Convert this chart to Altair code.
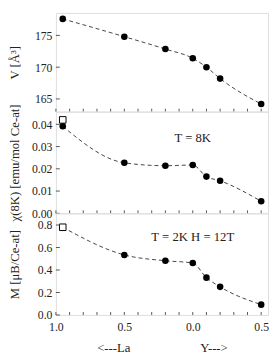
import altair as alt
import pandas as pd

# composition axis: negative = La fraction (shown as positive), positive = Y fraction
x_comp = [-0.95, -0.5, -0.2, 0.0, 0.1, 0.2, 0.5]
V_vals = [177.6, 174.8, 172.85, 171.4, 170.0, 168.2, 164.2]
chi_vals = [0.0391, 0.0227, 0.0214, 0.0217, 0.0165, 0.0146, 0.0054]
chi_open_x = [-0.95]
chi_open_y = [0.042]
M_x = [-0.5, -0.2, 0.0, 0.1, 0.2, 0.5]
M_vals = [0.534, 0.482, 0.462, 0.332, 0.25, 0.092]
M_open_x = [-0.95]
M_open_y = [0.78]

x_ticks = [round(-1.0 + 0.1 * i, 1) for i in range(16)]
x_label_vals = [-1.0, -0.5, 0.0, 0.5]
V_ticks = [165, 170, 175]
chi_ticks = [0.0, 0.01, 0.02, 0.03, 0.04]
M_ticks = [0.0, 0.2, 0.4, 0.6, 0.8]

ann_chi = {"x": [0.0], "y": [0.0339], "t": ["T = 8K"]}
ann_M = {"x": [0.0], "y": [0.696], "t": ["T = 2K H = 12T"]}

NB = "\u00a0"
x_title = "<---La" + NB * 22 + "Y--->"

FONT = "Liberation Serif"
W = 217
XDOM = [-1.0, 0.55]
LINE_COLOR = "#444"


def xenc(show):
    if show:
        ax = alt.Axis(values=x_label_vals, labelExpr="format(abs(datum.value), '.1f')",
                      ticks=False, domain=False, grid=False, labelFont=FONT, labelFontSize=12,
                      labelColor="#222", labelPadding=7, labelFlush=False, labelOverlap=False,
                      title=x_title,
                      titleFont=FONT, titleFontSize=13, titleFontWeight="normal",
                      titleColor="#222", titlePadding=9)
    else:
        ax = None
    return alt.X("x:Q", scale=alt.Scale(domain=XDOM, nice=False, zero=False), axis=ax)


def panel(df_line, df_pts, df_open, ydom, yticks, ytitle, yfmt, height, show_x, ann=None):
    yscale = alt.Scale(domain=ydom, nice=False, zero=False)
    yax = alt.Axis(values=yticks, format=yfmt, ticks=False, domain=False, grid=False,
                   labelFont=FONT, labelFontSize=12, labelColor="#222", labelPadding=4,
                   labelFlush=False, labelOverlap=False,
                   title=ytitle, titleFont=FONT, titleFontSize=13, titleFontWeight="normal",
                   titleColor="#222", titleX=-35)
    X = xenc(show_x)
    Y = alt.Y("y:Q", scale=yscale, axis=yax)
    line = alt.Chart(df_line).mark_line(
        interpolate="monotone", strokeDash=[4, 3], color=LINE_COLOR, strokeWidth=1
    ).encode(x=X, y=Y)
    layers = [line]
    if df_open is not None:
        layers.append(alt.Chart(df_open).mark_point(shape="square", filled=True, fill="white",
                                                    stroke="black", strokeWidth=1, size=45, opacity=1)
                      .encode(x=X, y=Y))
    if df_pts is not None:
        layers.append(alt.Chart(df_pts).mark_circle(color="black", size=45, opacity=1)
                      .encode(x=X, y=Y))
    # inward ticks
    xt = pd.DataFrame({"x": x_ticks})
    layers.append(alt.Chart(xt).mark_rule(color="#555", strokeWidth=1)
                  .encode(x=X, y=alt.value(height), y2=alt.value(height - 3)))
    yt = pd.DataFrame({"y": yticks})
    layers.append(alt.Chart(yt).mark_rule(color="#555", strokeWidth=1)
                  .encode(y=Y, x=alt.value(0), x2=alt.value(4)))
    if ann is not None:
        layers.append(alt.Chart(pd.DataFrame(ann)).mark_text(font=FONT, fontSize=13, color="#222")
                      .encode(x=X, y=Y, text="t:N"))
    return alt.layer(*layers).properties(width=W, height=height)


df_V = pd.DataFrame({"x": x_comp, "y": V_vals})
top = panel(df_V, df_V, None, [163.0, 178.54], V_ticks, "V [Å³]", "d", 101, False)

df_chi = pd.DataFrame({"x": x_comp, "y": chi_vals})
df_chi_open = pd.DataFrame({"x": chi_open_x, "y": chi_open_y})
mid = panel(df_chi, df_chi, df_chi_open, [0, 0.0457], chi_ticks, "χ(8K) [emu/mol Ce-at]",
            ".2f", 104, False, ann_chi)

df_M_line = pd.DataFrame({"x": M_open_x + M_x, "y": M_open_y + M_vals})
df_M = pd.DataFrame({"x": M_x, "y": M_vals})
df_M_open = pd.DataFrame({"x": M_open_x, "y": M_open_y})
bot = panel(df_M_line, df_M, df_M_open, [0, 0.904], M_ticks, "M [μB/Ce-at]", ".1f", 104, True, ann_M)

chart = alt.vconcat(top, mid, bot, spacing=0, bounds="flush").configure_view(
    stroke="#555", strokeWidth=1
).configure_concat(spacing=0).configure(font=FONT).properties(padding=0, background="white")

chart.save("out.html", embed_options={"renderer": "svg", "actions": False})
